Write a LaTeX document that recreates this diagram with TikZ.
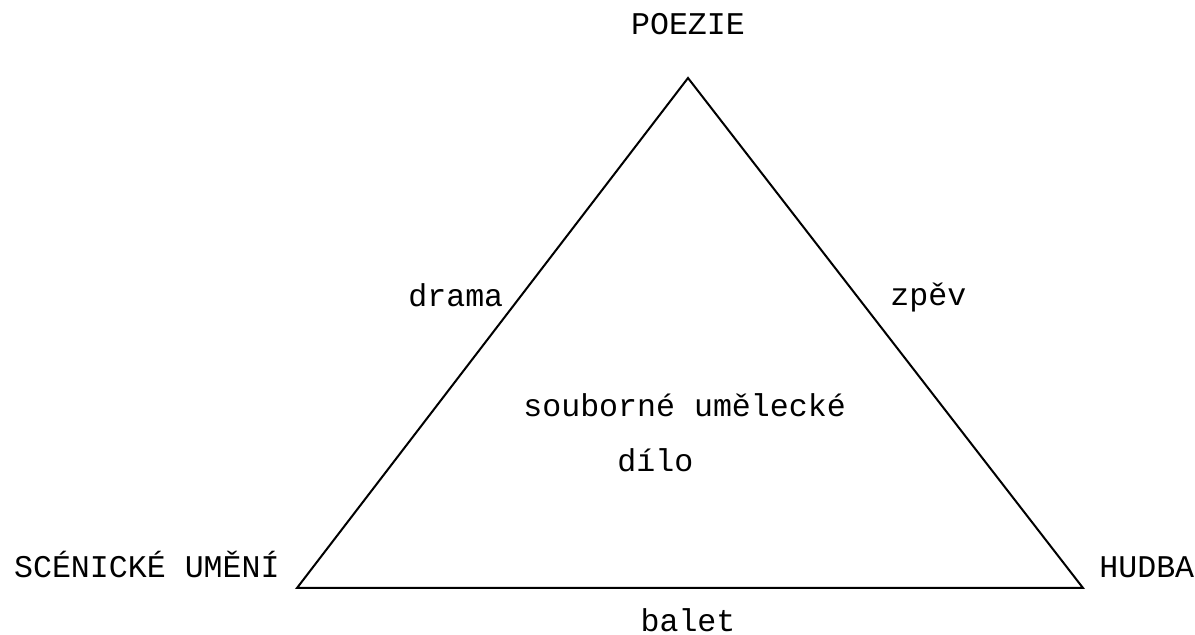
\documentclass[tikz,border=0pt]{standalone}
\usepackage{fontspec}
\setmonofont{Liberation Mono}
\usetikzlibrary{positioning}
\begin{document}
\begin{tikzpicture}[x=0.5pt,y=-0.5pt,
  lbl/.style={font=\ttfamily\fontsize{15.8}{19}\selectfont,inner sep=0pt,anchor=base west},
  edge/.style={draw=black,line width=1pt,line join=miter}]
\useasboundingbox (0,0) rectangle (1195,635);
% corners of the triangle
\coordinate (top) at (688,78);
\coordinate (left) at (297,588);
\coordinate (right) at (1083,588);
\draw[edge] (top) -- (right) -- (left) -- cycle;
% arts at the corners
\node[lbl,anchor=base] (poezie) at (688,35) {POEZIE};
\node[lbl,anchor=base east] (scena) at (280,578) {SCÉNICKÉ UMĚNÍ};
\node[lbl] (hudba) at (1099,578) {HUDBA};
% forms on the sides
\node[lbl] (drama) at (408,307) {drama};
\node[lbl] (zpev) at (890,306) {zpěv};
\node[lbl,anchor=base] (balet) at (688,632) {balet};
% centre
\node[lbl] (dilo1) at (523,417) {souborné umělecké};
\node[lbl] (dilo2) at (617,472) {dílo};
\end{tikzpicture}
\end{document}
